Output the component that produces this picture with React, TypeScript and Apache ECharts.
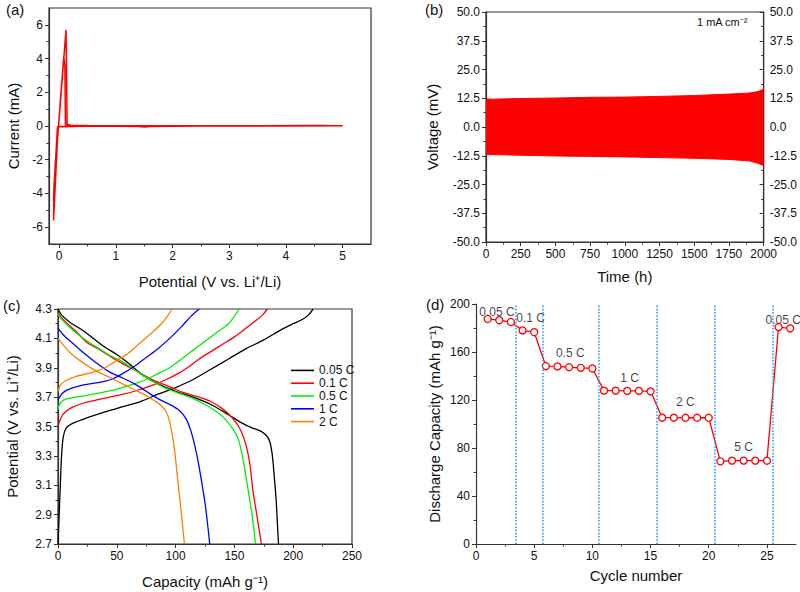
import React, { useEffect, useRef } from "react";
import * as echarts from "echarts";

const FONT = "Liberation Sans, Arial, Helvetica, sans-serif";
const AXIS_COLOR = "#333333";
const TEXT_COLOR = "#111111";

// ---------- (a) cyclic voltammetry ----------
const cvPotential = [5.0, 4.5, 4.0, 3.5, 3.0, 2.5, 2.0, 1.6, 1.5, 1.4, 1.0, 0.5, 0.2, 0.05, -0.02, -0.1, -0.09, 0.12, 0.14, 0.2, 0.5, 1.0, 2.0, 3.0, 4.0, 5.0, 4.0, 2.0, 1.0, 0.3, 0.0, -0.03, -0.09, -0.1, -0.09, 0.08, 0.1, 0.11, 0.15, 0.5, 1.5, 3.0, 4.6, 5.0];
const cvCurrent = [0, 0, 0, 0.01, 0, 0, -0.01, -0.03, -0.06, -0.03, -0.02, -0.02, -0.03, -0.04, -0.05, -5.6, -3.4, 5.7, 0.1, 0.05, 0.03, 0.02, 0.02, 0.01, 0.02, 0.01, 0, 0, -0.01, -0.02, -0.03, -0.05, -3.5, -4.5, -3.4, 4.1, 3.6, 0.05, 0.04, 0.02, 0.01, 0.01, 0.03, 0];
const cvXTicks = [0, 1, 2, 3, 4, 5];
const cvXMinor = [0.5, 1.5, 2.5, 3.5, 4.5];
const cvYTicks = [-6, -4, -2, 0, 2, 4, 6];
const cvYMinor = [-5, -3, -1, 1, 3, 5];

// ---------- (b) Li||Li cycling ----------
const timeH = [0, 50, 250, 500, 750, 1000, 1250, 1500, 1750, 1900, 1960, 2000];
const voltUpper = [12.2, 12.1, 12.4, 12.6, 12.9, 13.0, 13.3, 13.7, 14.3, 14.8, 15.4, 16.5];
const voltLower = [-11.9, -12.0, -12.3, -12.6, -12.8, -13.0, -13.3, -13.6, -14.1, -14.8, -15.8, -16.8];

// ---------- (c) charge / discharge profiles ----------
const rateNames = ["0.05 C", "0.1 C", "0.5 C", "1 C", "2 C"];
const rateColors = ["#000000", "#ff0000", "#00ee00", "#0000ff", "#ff8000"];

const chg005Cap = [0, 1, 2, 3, 4.5, 7, 12, 25, 40, 55, 70, 85, 100, 115, 130, 145, 160, 175, 190, 200, 208, 213, 217];
const chg005V = [2.7, 2.9, 3.1, 3.3, 3.43, 3.49, 3.52, 3.56, 3.6, 3.635, 3.67, 3.72, 3.765, 3.82, 3.89, 3.96, 4.03, 4.09, 4.16, 4.2, 4.23, 4.26, 4.3];
const dis005Cap = [0, 3, 10, 20, 30, 40, 50, 60, 72, 85, 100, 115, 130, 145, 155, 165, 172, 177, 180, 182, 184, 185.5, 186.5, 187.5];
const dis005V = [4.3, 4.26, 4.21, 4.16, 4.1, 4.04, 3.99, 3.93, 3.85, 3.79, 3.74, 3.7, 3.65, 3.58, 3.53, 3.49, 3.47, 3.44, 3.4, 3.32, 3.15, 3.0, 2.85, 2.7];

const chg01Cap = [0, 2, 5, 12, 22, 35, 50, 65, 80, 92, 102, 110, 120, 130, 140, 150, 160, 168, 174, 178];
const chg01V = [3.5, 3.55, 3.59, 3.63, 3.66, 3.685, 3.71, 3.74, 3.78, 3.82, 3.86, 3.9, 3.96, 4.01, 4.06, 4.11, 4.17, 4.22, 4.26, 4.3];
const dis01Cap = [0, 2, 8, 15, 25, 36, 50, 64, 80, 95, 107, 120, 130, 140, 148, 155, 160, 163, 166, 168, 171, 173];
const dis01V = [4.28, 4.25, 4.2, 4.15, 4.07, 4.02, 3.95, 3.89, 3.82, 3.77, 3.73, 3.7, 3.67, 3.62, 3.56, 3.48, 3.37, 3.25, 3.05, 2.95, 2.8, 2.7];

const chg05Cap = [0, 2, 6, 15, 30, 50, 65, 75, 85, 95, 105, 115, 125, 135, 145, 150, 154];
const chg05V = [3.62, 3.66, 3.685, 3.7, 3.72, 3.755, 3.79, 3.82, 3.86, 3.9, 3.96, 4.02, 4.08, 4.14, 4.2, 4.25, 4.3];
const dis05Cap = [0, 2, 8, 15, 25, 35, 45, 55, 70, 80, 92, 105, 115, 125, 135, 142, 148, 153, 156, 159, 162, 165, 168];
const dis05V = [4.27, 4.24, 4.19, 4.14, 4.08, 4.03, 3.98, 3.94, 3.86, 3.81, 3.76, 3.72, 3.69, 3.65, 3.6, 3.55, 3.49, 3.42, 3.33, 3.2, 3.05, 2.9, 2.7];

const chg1Cap = [0, 3, 8, 20, 35, 45, 55, 65, 75, 85, 95, 105, 113, 120];
const chg1V = [3.68, 3.72, 3.75, 3.78, 3.8, 3.82, 3.86, 3.91, 3.97, 4.03, 4.1, 4.18, 4.25, 4.3];
const dis1Cap = [0, 5, 12, 22, 33, 44, 55, 65, 75, 85, 95, 103, 109, 113, 116, 119, 122, 125, 127, 129];
const dis1V = [4.17, 4.12, 4.07, 4.0, 3.93, 3.87, 3.83, 3.79, 3.74, 3.69, 3.65, 3.61, 3.55, 3.47, 3.38, 3.27, 3.13, 2.98, 2.85, 2.7];

const chg2Cap = [0, 2, 6, 15, 30, 40, 50, 60, 70, 80, 88, 93, 97];
const chg2V = [3.74, 3.78, 3.81, 3.84, 3.87, 3.9, 3.95, 4.0, 4.07, 4.14, 4.2, 4.25, 4.3];
const dis2Cap = [0, 5, 12, 22, 32, 45, 55, 65, 75, 83, 88, 92, 95, 97, 99, 101, 103, 105, 107.5];
const dis2V = [4.1, 4.05, 3.99, 3.93, 3.88, 3.83, 3.79, 3.75, 3.71, 3.67, 3.64, 3.6, 3.53, 3.45, 3.35, 3.2, 3.05, 2.9, 2.7];

const chargeCurves = [
  [chg005Cap, chg005V],
  [chg01Cap, chg01V],
  [chg05Cap, chg05V],
  [chg1Cap, chg1V],
  [chg2Cap, chg2V],
];
const dischargeCurves = [
  [dis005Cap, dis005V],
  [dis01Cap, dis01V],
  [dis05Cap, dis05V],
  [dis1Cap, dis1V],
  [dis2Cap, dis2V],
];

// ---------- (d) rate capability ----------
const cycleNumbers = [1, 2, 3, 4, 5, 6, 7, 8, 9, 10, 11, 12, 13, 14, 15, 16, 17, 18, 19, 20, 21, 22, 23, 24, 25, 26, 27];
const dischargeCapacity = [187.5, 186.5, 185, 178, 176.5, 148.3, 148, 147.3, 146.8, 146.3, 127.8, 127.8, 127.6, 127.6, 127.2, 105.3, 105.3, 105.2, 105.2, 105.2, 68.9, 69.5, 69.5, 69.5, 69.4, 180.8, 179.7];
const rateBoundaries = [3.4, 5.7, 10.55, 15.5, 20.5, 25.5];
const rateLabelText = ["0.05 C", "0.1 C", "0.5 C", "1 C", "2 C", "5 C", "0.05 C"];
const rateLabelX = [1.8, 4.7, 8.1, 13.2, 18.0, 23.0, 26.4];
const rateLabelY = [193.5, 188.5, 159.5, 138, 118, 81, 186.5];
const cycleXTicks = [0, 5, 10, 15, 20, 25];
const cycleXMinor = [2.5, 7.5, 12.5, 17.5, 22.5];

const zip = (a: number[], b: number[]) => a.map((v, i) => [v, b[i]]);

const tickLabel = { color: TEXT_COLOR, fontSize: 12, fontFamily: FONT, margin: 6 };
const nameStyle = { color: TEXT_COLOR, fontSize: 15, fontFamily: FONT };
const axisLine = { show: true, onZero: false, lineStyle: { color: AXIS_COLOR, width: 1.2 } };
const majorTick = { show: true, inside: false, length: 4, lineStyle: { color: AXIS_COLOR, width: 1 } };
const minorTick = { show: true, splitNumber: 2, length: 2.5, lineStyle: { color: AXIS_COLOR, width: 1 } };

function minorAxis(gridIndex: number, min: number, max: number, values: number[], position: string) {
  return {
    type: "value",
    gridIndex,
    position,
    min,
    max,
    axisLine: { show: false, onZero: false },
    axisLabel: { show: false },
    axisTick: { show: true, length: 2.5, customValues: values, lineStyle: { color: AXIS_COLOR, width: 1 } },
    splitLine: { show: false },
  };
}

export default function App() {
  const ref = useRef<HTMLDivElement>(null);

  useEffect(() => {
    if (!ref.current) return;
    const chart = echarts.init(ref.current, null, { renderer: "svg" });

    const series: any[] = [];

    // (a)
    series.push({
      name: "cv",
      type: "line",
      xAxisIndex: 0,
      yAxisIndex: 0,
      data: zip(cvPotential, cvCurrent),
      showSymbol: false,
      lineStyle: { color: "#ff0000", width: 1.5 },
      silent: true,
    });

    // (b)
    series.push({
      name: "upper",
      type: "line",
      xAxisIndex: 2,
      yAxisIndex: 2,
      data: zip(timeH, voltUpper),
      showSymbol: false,
      lineStyle: { color: "#ff0000", width: 1 },
      areaStyle: { color: "#ff0000", opacity: 1 },
      silent: true,
    });
    series.push({
      name: "lower",
      type: "line",
      xAxisIndex: 2,
      yAxisIndex: 2,
      data: zip(timeH, voltLower),
      showSymbol: false,
      lineStyle: { color: "#ff0000", width: 1 },
      areaStyle: { color: "#ff0000", opacity: 1 },
      silent: true,
    });

    // (c)
    rateNames.forEach((nm, i) => {
      [chargeCurves[i], dischargeCurves[i]].forEach(([cap, v]) => {
        series.push({
          name: nm,
          type: "line",
          xAxisIndex: 3,
          yAxisIndex: 4,
          data: zip(cap, v),
          showSymbol: false,
          smooth: 0.3,
          lineStyle: { color: rateColors[i], width: 1.3 },
          itemStyle: { color: rateColors[i] },
          silent: true,
        });
      });
    });

    // (d)
    series.push({
      name: "capacity",
      type: "line",
      xAxisIndex: 4,
      yAxisIndex: 5,
      data: zip(cycleNumbers, dischargeCapacity),
      symbol: "circle",
      symbolSize: 7,
      showSymbol: true,
      lineStyle: { color: "#ff0000", width: 1.3 },
      itemStyle: { color: "#ffffff", borderColor: "#ff0000", borderWidth: 1.3 },
      silent: true,
      markLine: {
        silent: true,
        symbol: ["none", "none"],
        label: { show: false },
        lineStyle: { color: "#3d9be9", type: "dotted", width: 1.6 },
        data: rateBoundaries.map((x) => ({ xAxis: x })),
      },
    });
    series.push({
      name: "rateLabels",
      type: "scatter",
      xAxisIndex: 4,
      yAxisIndex: 5,
      symbolSize: 0,
      silent: true,
      data: rateLabelText.map((t, i) => ({ name: t, value: [rateLabelX[i], rateLabelY[i]] })),
      label: {
        show: true,
        position: "inside",
        formatter: "{b}",
        color: TEXT_COLOR,
        fontSize: 12,
        fontFamily: FONT,
      },
    });

    const option: any = {
      animation: false,
      backgroundColor: "#ffffff",
      textStyle: { fontFamily: FONT },
      grid: [
        { left: 49, top: 8, width: 322, height: 236, show: true, borderColor: AXIS_COLOR, borderWidth: 1.2, backgroundColor: "transparent" },
        { left: 486, top: 12, width: 278, height: 230, show: true, borderColor: AXIS_COLOR, borderWidth: 1.2, backgroundColor: "transparent" },
        { left: 58, top: 309, width: 294, height: 235, show: true, borderColor: AXIS_COLOR, borderWidth: 1.2, backgroundColor: "transparent" },
        { left: 476, top: 304, width: 320, height: 240, show: false },
      ],
      legend: {
        data: rateNames,
        orient: "vertical",
        left: 286,
        top: 359,
        icon: "rect",
        itemWidth: 23,
        itemHeight: 1.6,
        itemGap: 0,
        textStyle: { color: TEXT_COLOR, fontSize: 12, fontFamily: FONT, lineHeight: 12.8 },
        selectedMode: false,
      },
      xAxis: [
        {
          type: "value",
          gridIndex: 0,
          position: "bottom",
          min: -0.18,
          max: 5.5,
          name: "Potential (V vs. Li\u207A/Li)",
          nameLocation: "middle",
          nameGap: 30,
          nameTextStyle: nameStyle,
          axisLine,
          axisTick: { ...majorTick, customValues: cvXTicks },
          axisLabel: { ...tickLabel, customValues: cvXTicks },
          splitLine: { show: false },
        },
        minorAxis(0, -0.18, 5.5, cvXMinor, "bottom"),
        {
          type: "value",
          gridIndex: 1,
          position: "bottom",
          min: 0,
          max: 2000,
          interval: 250,
          name: "Time (h)",
          nameLocation: "middle",
          nameGap: 27,
          nameTextStyle: nameStyle,
          axisLine,
          axisTick: majorTick,
          minorTick,
          axisLabel: { ...tickLabel, formatter: (v: number) => String(v) },
          splitLine: { show: false },
        },
        {
          type: "value",
          gridIndex: 2,
          position: "bottom",
          min: 0,
          max: 250,
          interval: 50,
          name: "Capacity (mAh g\u207B\u00B9)",
          nameLocation: "middle",
          nameGap: 30,
          nameTextStyle: nameStyle,
          axisLine,
          axisTick: majorTick,
          minorTick,
          axisLabel: tickLabel,
          splitLine: { show: false },
        },
        {
          type: "value",
          gridIndex: 3,
          position: "bottom",
          min: 0,
          max: 27.5,
          name: "Cycle number",
          nameLocation: "middle",
          nameGap: 24,
          nameTextStyle: nameStyle,
          axisLine,
          axisTick: { ...majorTick, customValues: cycleXTicks },
          axisLabel: { ...tickLabel, customValues: cycleXTicks },
          splitLine: { show: false },
        },
        minorAxis(3, 0, 27.5, cycleXMinor, "bottom"),
      ],
      yAxis: [
        {
          type: "value",
          gridIndex: 0,
          position: "left",
          min: -7,
          max: 7,
          name: "Current (mA)",
          nameLocation: "middle",
          nameGap: 28,
          nameTextStyle: nameStyle,
          axisLine,
          axisTick: { ...majorTick, customValues: cvYTicks },
          axisLabel: { ...tickLabel, customValues: cvYTicks },
          splitLine: { show: false },
        },
        minorAxis(0, -7, 7, cvYMinor, "left"),
        {
          type: "value",
          gridIndex: 1,
          position: "left",
          min: -50,
          max: 50,
          interval: 12.5,
          name: "Voltage (mV)",
          nameLocation: "middle",
          nameGap: 46,
          nameTextStyle: nameStyle,
          axisLine,
          axisTick: majorTick,
          minorTick,
          axisLabel: { ...tickLabel, formatter: (v: number) => v.toFixed(1) },
          splitLine: { show: false },
        },
        {
          type: "value",
          gridIndex: 1,
          position: "right",
          min: -50,
          max: 50,
          interval: 12.5,
          axisLine,
          axisTick: { ...majorTick, inside: true },
          minorTick,
          axisLabel: { ...tickLabel, formatter: (v: number) => v.toFixed(1) },
          splitLine: { show: false },
        },
        {
          type: "value",
          gridIndex: 2,
          position: "left",
          min: 2.7,
          max: 4.3,
          interval: 0.2,
          name: "Potential (V vs. Li\u207A/Li)",
          nameLocation: "middle",
          nameGap: 38,
          nameTextStyle: nameStyle,
          axisLine,
          axisTick: majorTick,
          minorTick,
          axisLabel: { ...tickLabel, formatter: (v: number) => v.toFixed(1) },
          splitLine: { show: false },
        },
        {
          type: "value",
          gridIndex: 3,
          position: "left",
          min: 0,
          max: 200,
          interval: 40,
          name: "Discharge Capacity (mAh g\u207B\u00B9)",
          nameLocation: "middle",
          nameGap: 34,
          nameTextStyle: nameStyle,
          axisLine,
          axisTick: majorTick,
          minorTick,
          axisLabel: tickLabel,
          splitLine: { show: false },
        },
      ],
      graphic: [
        { type: "text", left: 6, top: 2, style: { text: "(a)", fill: TEXT_COLOR, font: `15px ${FONT}` } },
        { type: "text", left: 425, top: 2, style: { text: "(b)", fill: TEXT_COLOR, font: `15px ${FONT}` } },
        { type: "text", left: 3, top: 298, style: { text: "(c)", fill: TEXT_COLOR, font: `15px ${FONT}` } },
        { type: "text", left: 426, top: 297, style: { text: "(d)", fill: TEXT_COLOR, font: `15px ${FONT}` } },
        { type: "text", left: 697, top: 16, style: { text: "1 mA cm\u207B\u00B2", fill: TEXT_COLOR, font: `11px ${FONT}` } },
      ],
      series,
    };

    chart.setOption(option);
    return () => chart.dispose();
  }, []);

  return (
    <div
      ref={ref}
      style={{ position: "fixed", left: 0, top: 0, width: 800, height: 592, background: "#fff" }}
    />
  );
}
